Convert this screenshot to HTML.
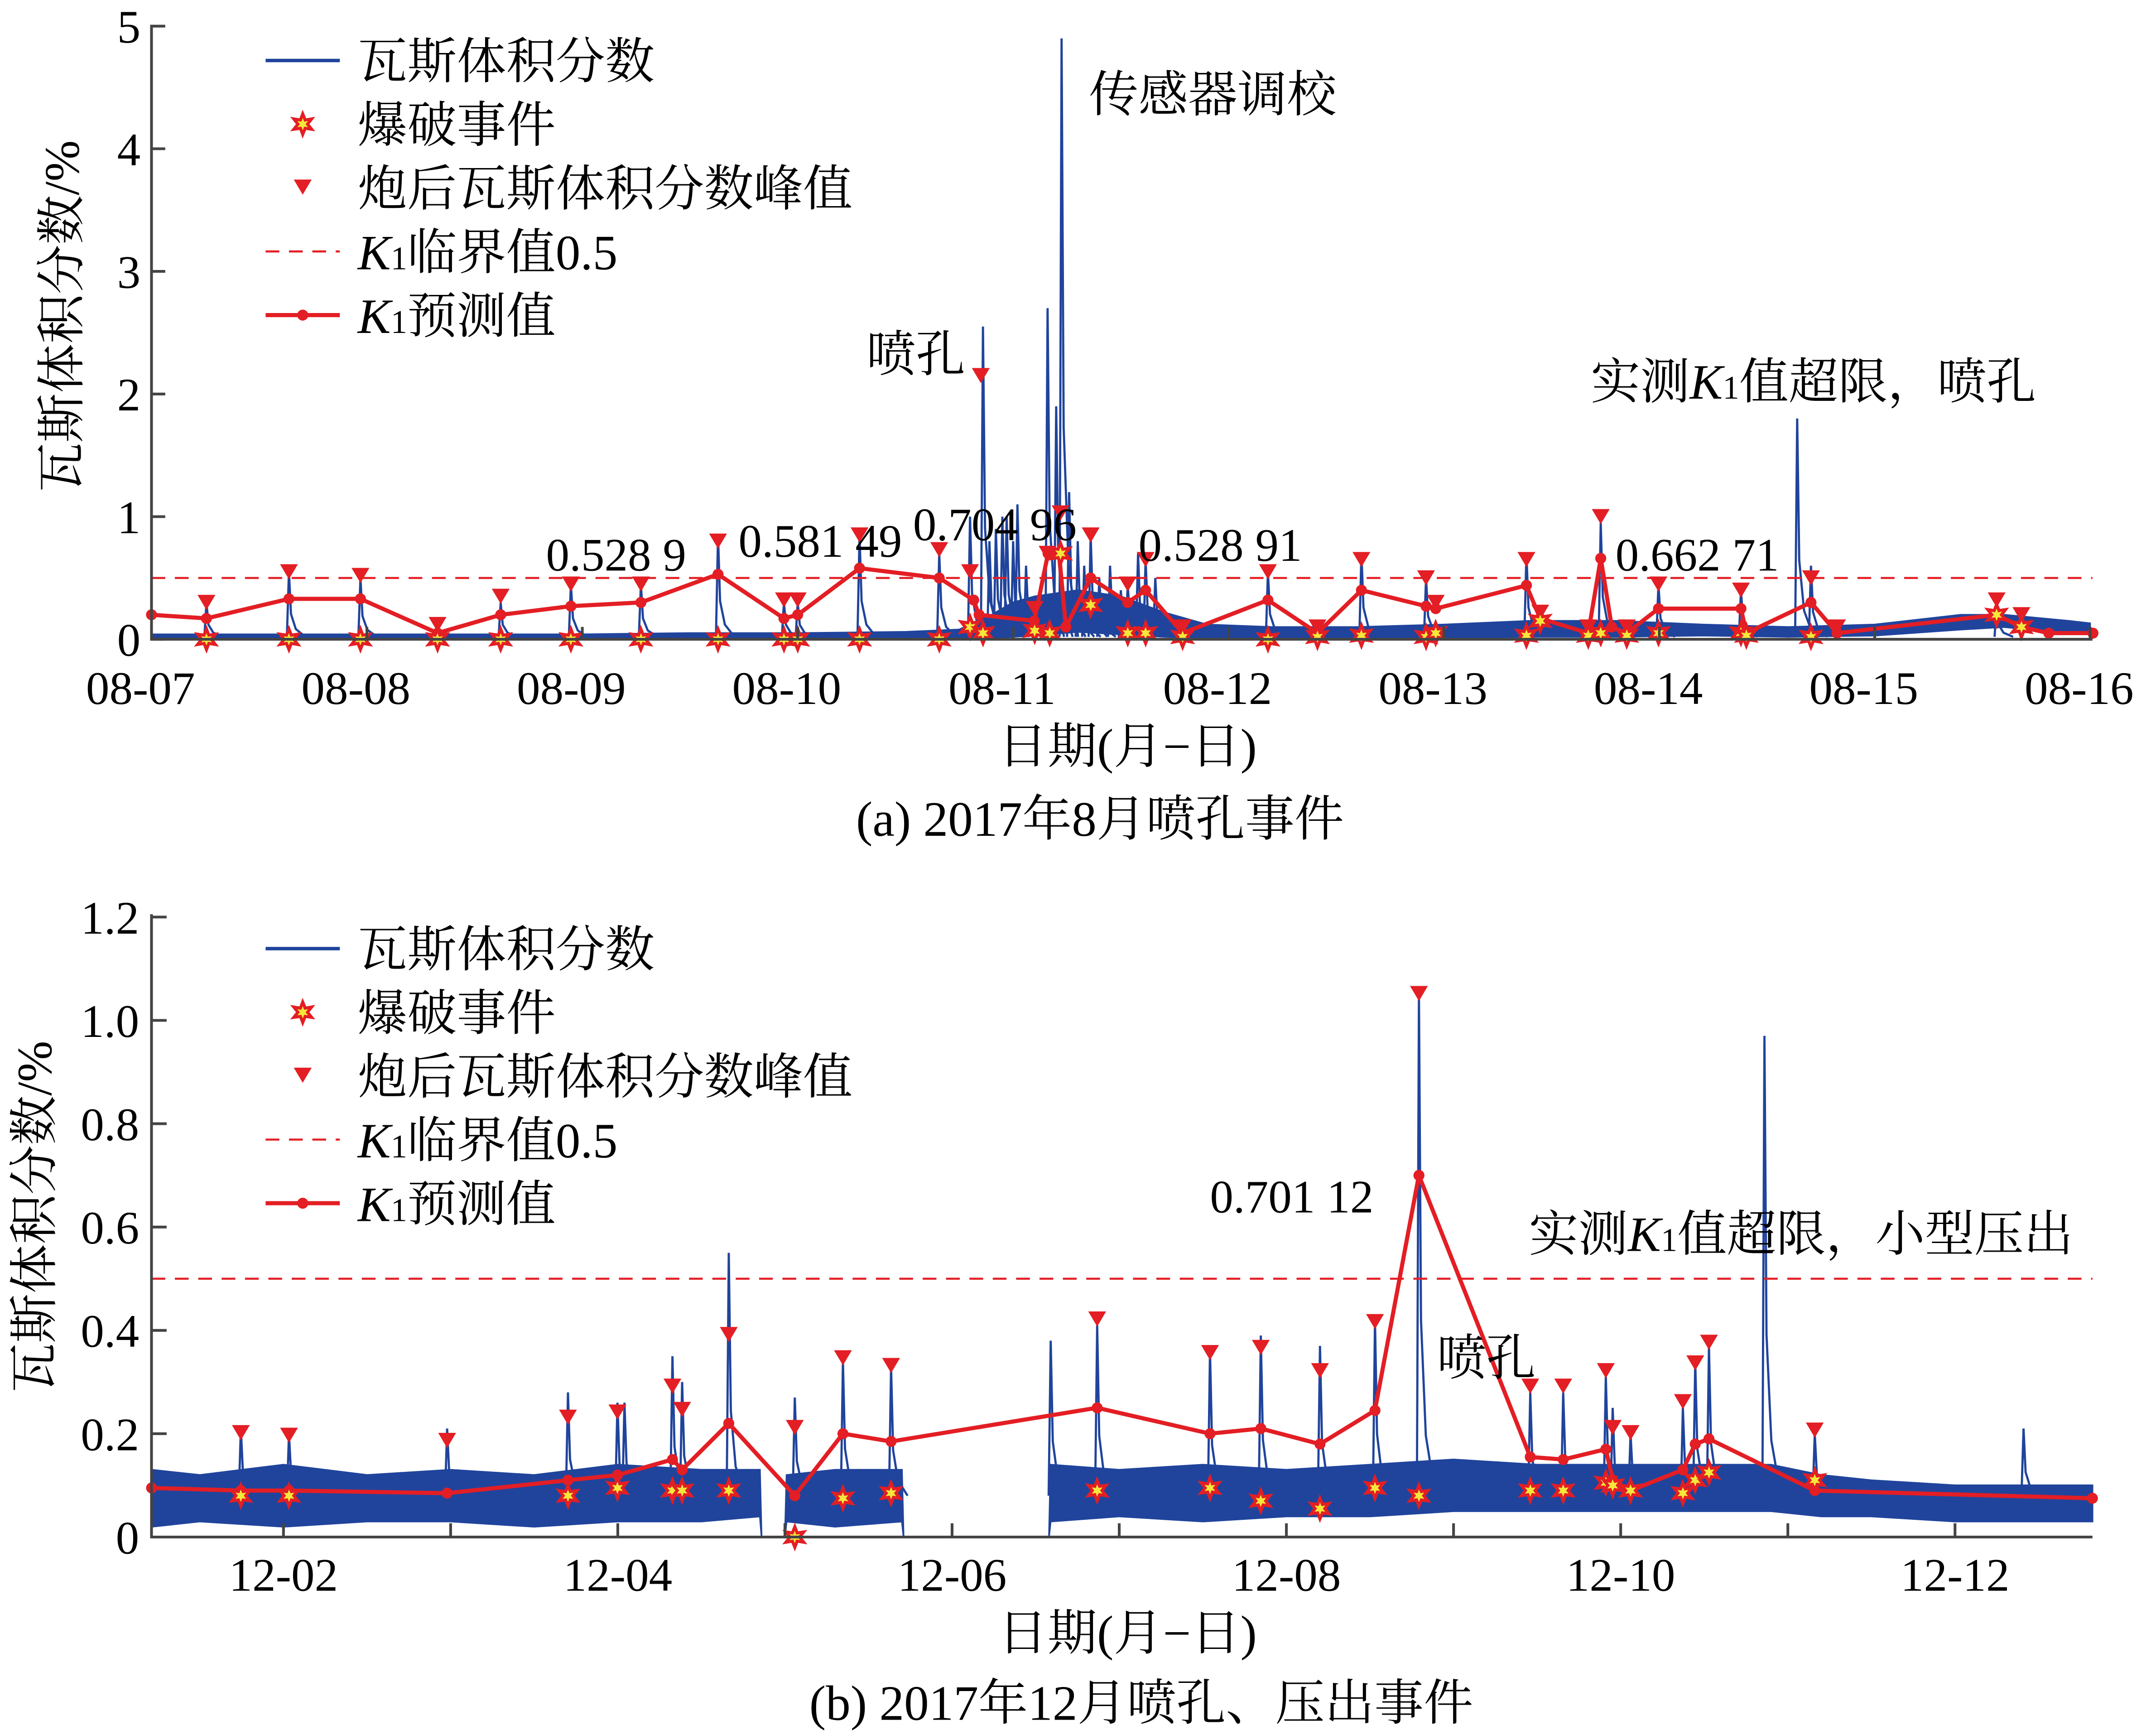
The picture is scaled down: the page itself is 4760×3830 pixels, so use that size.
<!DOCTYPE html>
<html><head><meta charset="utf-8"><style>
html,body{margin:0;padding:0;background:#fff;}
svg{display:block;font-family:"Liberation Serif","Noto Serif CJK SC","Noto Sans CJK SC",serif;}
</style></head><body>
<svg id="chart" width="4760" height="3830" viewBox="0 0 1568 1262" xmlns="http://www.w3.org/2000/svg">
<g id="pa"></g>
<g id="pb"></g>
</svg>
<script>
// ---------- Panel A data (days since 08-07) ----------
const aTickLabels = ["08-07","08-08","08-09","08-10","08-11","08-12","08-13","08-14","08-15","08-16"];
const aYTicks = [0,1,2,3,4,5];
const aK1Days = [0,0.255,0.638,0.970,1.328,1.621,1.947,2.272,2.630,2.936,3.0,3.287,3.657,3.817,3.842,4.098,4.162,4.213,4.245,4.360,4.532,4.615,4.787,5.183,5.413,5.617,5.917,5.962,6.383,6.447,6.670,6.728,6.779,6.849,6.996,7.379,7.404,7.704,7.825,8.566,8.681,8.808,9.013];
const aK1Vals = [0.2,0.17,0.33,0.33,0.05,0.2,0.27,0.3,0.53,0.17,0.2,0.58,0.5,0.32,0.2,0.15,0.7,0.7,0.1,0.5,0.3,0.4,0.05,0.32,0.05,0.4,0.27,0.25,0.44,0.17,0.05,0.66,0.1,0.05,0.25,0.25,0.05,0.3,0.05,0.2,0.1,0.05,0.05];
const aBlastDays = [0.255,0.638,0.970,1.328,1.621,1.947,2.272,2.630,2.936,3.0,3.287,3.657,3.80,3.86,4.10,4.17,4.22,4.36,4.532,4.615,4.787,5.183,5.413,5.617,5.917,5.962,6.383,6.447,6.670,6.728,6.849,6.996,7.379,7.404,7.704,8.566,8.681];
const aBlastVals = [0,0,0,0,0,0,0,0,0,0,0,0,0.1,0.05,0.07,0.05,0.7,0.28,0.05,0.05,0.02,0,0.02,0.03,0.02,0.05,0.03,0.15,0.03,0.05,0.03,0.05,0.05,0.03,0.02,0.2,0.1];
const aPeakDays = [0.255,0.638,0.970,1.328,1.621,1.947,2.272,2.630,2.936,3.0,3.287,3.657,3.80,3.85,4.10,4.16,4.22,4.36,4.532,4.615,4.787,5.183,5.413,5.617,5.917,5.962,6.383,6.447,6.670,6.728,6.849,6.996,7.379,7.704,7.825,8.566,8.681];
const aPeakVals = [0.25,0.5,0.47,0.07,0.3,0.4,0.4,0.75,0.27,0.27,0.8,0.68,0.5,2.1,0.2,0.65,0.98,0.8,0.4,0.6,0.05,0.5,0.05,0.6,0.45,0.25,0.6,0.17,0.05,0.95,0.05,0.4,0.35,0.45,0.05,0.27,0.15];
const aSpikeDays = [0.255,0.638,0.970,1.621,1.947,2.272,2.630,2.936,3.0,3.287,3.657,3.80,3.86,3.89,3.92,3.95,3.97,4.00,4.02,4.06,4.10,4.16,4.20,4.225,4.26,4.30,4.33,4.36,4.40,4.45,4.50,4.532,4.58,4.615,4.66,5.183,5.617,5.917,6.383,6.728,6.996,7.379,7.64,7.704,8.566];
const aSpikeVals = [0.3,0.55,0.5,0.3,0.45,0.45,0.85,0.3,0.3,0.85,0.7,1.0,2.55,0.8,0.9,1.0,1.0,0.8,1.1,0.6,0.3,2.7,1.9,4.9,1.2,0.8,0.6,0.85,0.5,0.6,0.4,0.45,0.7,0.65,0.5,0.55,0.7,0.5,0.7,0.95,0.45,0.4,1.8,0.6,0.3];
const aBandDays = [0,0.5,1,1.5,2,2.5,3,3.5,3.75,3.9,4.0,4.1,4.3,4.5,4.7,4.9,5.2,5.6,6.0,6.4,6.8,7.2,7.6,8.0,8.4,8.6,8.9,9.0];
const aBandLo = [0,0,0,0,0,0,0,0,0,0.01,0.02,0.03,0.06,0.04,0.02,0.01,0,0,0.01,0.02,0.02,0.03,0.02,0.03,0.08,0.1,0.05,0.05];
const aBandHi = [0.04,0.04,0.04,0.04,0.04,0.05,0.05,0.06,0.08,0.2,0.3,0.35,0.4,0.35,0.22,0.12,0.1,0.1,0.12,0.15,0.15,0.12,0.1,0.12,0.2,0.2,0.15,0.13];

// ---------- Panel B data (day of December) ----------
const bTickLabels = ["12-02","12-04","12-06","12-08","12-10","12-12"];
const bTickDays = [2,4,6,8,10,12];
const bYTicks = ["0","0.2","0.4","0.6","0.8","1.0","1.2"];
const bK1Days = [1.211,1.745,2.033,2.979,3.702,3.998,4.327,4.385,4.664,5.059,5.347,5.635,6.868,7.543,7.847,8.201,8.530,8.793,9.459,9.656,9.911,9.952,10.059,10.372,10.446,10.528,11.161,12.822];
const bK1Vals = [0.095,0.09,0.09,0.085,0.11,0.12,0.15,0.13,0.22,0.08,0.2,0.185,0.25,0.2,0.21,0.18,0.245,0.70,0.155,0.15,0.17,0.11,0.09,0.13,0.18,0.19,0.09,0.075];
const bBlastDays = [1.745,2.033,3.702,3.998,4.327,4.385,4.664,5.059,5.347,5.635,6.868,7.543,7.847,8.201,8.530,8.793,9.459,9.656,9.911,9.952,10.059,10.372,10.446,10.528,11.161];
const bBlastVals = [0.08,0.08,0.08,0.095,0.09,0.09,0.09,0,0.075,0.085,0.09,0.095,0.07,0.055,0.095,0.08,0.09,0.09,0.105,0.1,0.09,0.085,0.11,0.125,0.11];
const bPeakDays = [1.745,2.033,2.979,3.702,3.998,4.327,4.385,4.664,5.059,5.347,5.635,6.868,7.543,7.847,8.201,8.530,8.793,9.459,9.656,9.911,9.952,10.059,10.372,10.446,10.528,11.161];
const bPeakVals = [0.19,0.185,0.175,0.22,0.23,0.28,0.235,0.38,0.2,0.335,0.32,0.41,0.345,0.355,0.31,0.405,1.04,0.28,0.28,0.31,0.2,0.19,0.25,0.325,0.365,0.195];
const bSpikeDays = [1.745,2.033,2.979,3.702,3.998,4.04,4.327,4.385,4.664,5.059,5.347,5.635,6.59,6.868,7.543,7.847,8.201,8.530,8.793,9.459,9.656,9.911,9.952,10.059,10.372,10.446,10.528,10.86,11.161,12.41];
const bSpikeVals = [0.21,0.2,0.21,0.28,0.26,0.26,0.35,0.3,0.55,0.27,0.34,0.33,0.38,0.41,0.36,0.39,0.37,0.42,1.05,0.28,0.28,0.31,0.25,0.2,0.25,0.34,0.37,0.97,0.2,0.21];
const bBandDays = [1.211,1.5,2,2.5,3,3.5,4,4.5,4.85,4.86,5.0,5.01,5.3,5.7,5.71,6.58,6.59,7,7.5,8,8.5,9,9.5,10,10.5,10.9,11.2,11.5,12,12.5,12.822];
const bBandLo = [0.02,0.03,0.02,0.03,0.03,0.02,0.03,0.03,0.04,0,0,0.03,0.02,0.03,0,0,0.03,0.04,0.03,0.04,0.04,0.05,0.05,0.05,0.05,0.05,0.04,0.04,0.03,0.03,0.03];
const bBandHi = [0.13,0.12,0.14,0.12,0.13,0.12,0.14,0.13,0.13,0,0,0.12,0.13,0.13,0,0,0.14,0.13,0.14,0.13,0.14,0.15,0.14,0.14,0.14,0.14,0.12,0.11,0.1,0.1,0.1];

const NS="http://www.w3.org/2000/svg";
function mk(parent,tag,attrs){const e=document.createElementNS(NS,tag);for(const k in attrs)e.setAttribute(k,attrs[k]);parent.appendChild(e);return e;}
const BLUE="#20449c", RED="#e31e24";

function star(g,x,y){
  const pts=[];for(let i=0;i<12;i++){const r=i%2?3.5:7.5;const a=Math.PI/6*i-Math.PI/2;pts.push((x+r*Math.cos(a)).toFixed(1)+","+(y+r*Math.sin(a)).toFixed(1));}
  const p=mk(g,"polygon",{points:pts.join(" "),fill:"#f5e83a",stroke:RED,"stroke-width":2.2});
  
  
}
function tri(g,x,y){
  const p=mk(g,"polygon",{points:`${x-6.5},${y-10} ${x+6.5},${y-10} ${x},${y+1}`,fill:RED});
  
  
}

function drawPanel(g,o){
  const {x,y,x0,x1,y0,y1}=o;
  let d="";
  o.bandDays.forEach((t,i)=>{d+=(i?"L":"M")+x(t).toFixed(1)+","+y(o.bandHi[i]).toFixed(1);});
  for(let i=o.bandDays.length-1;i>=0;i--)d+="L"+x(o.bandDays[i]).toFixed(1)+","+y(o.bandLo[i]).toFixed(1);
  const band=mk(g,"path",{d:d+"Z",fill:BLUE,stroke:BLUE,"stroke-width":1.2});
  
  
  o.spikeDays.forEach((t,i)=>{
    const b=o.base(t);
    const sp=mk(g,"path",{d:`M${x(t)-1.5},${y(b)} L${x(t)},${y(o.spikeVals[i])} L${x(t)+1.5},${y(b+(o.spikeVals[i]-b)*0.35)} L${x(t)+5},${y(b+(o.spikeVals[i]-b)*0.12)} L${x(t)+12},${y(b)}`,fill:"none",stroke:BLUE,"stroke-width":1.6});
    
    
  });
  const th=mk(g,"line",{x1:x0,x2:x1,y1:y(0.5),y2:y(0.5),stroke:RED,"stroke-width":1.5,"stroke-dasharray":"10,7"});
  
  
  const pts=o.k1Days.map((t,i)=>x(t).toFixed(1)+","+y(o.k1Vals[i]).toFixed(1)).join(" ");
  const k1=mk(g,"polyline",{points:pts,fill:"none",stroke:RED,"stroke-width":3,"stroke-linejoin":"round"});
  
  
  o.k1Days.forEach((t,i)=>{const c=mk(g,"circle",{cx:x(t),cy:y(o.k1Vals[i]),r:4,fill:RED});
    
    });
  o.peakDays.forEach((t,i)=>tri(g,x(t),y(o.peakVals[i])));
  o.blastDays.forEach((t,i)=>star(g,x(t),y(o.blastVals[i])));
  const ax=mk(g,"path",{d:`M${x0},${y1} L${x0},${y0} L${x1},${y0}`,fill:"none",stroke:"#444","stroke-width":2});
  
  
}

function legend(g,top){
  const items=["瓦斯体积分数","爆破事件","炮后瓦斯体积分数峰值","临界值0.5","预测值"];
  items.forEach((s,i)=>{
    const yy=top+i*46.3;
    const lg=mk(g,"g",{});
    
    
    if(i==0)mk(lg,"line",{x1:193,x2:247,y1:yy,y2:yy,stroke:BLUE,"stroke-width":2.5});
    if(i==1)star(lg,220,yy);
    if(i==2)tri(lg,220,yy+4);
    if(i==3)mk(lg,"line",{x1:193,x2:247,y1:yy,y2:yy,stroke:RED,"stroke-width":1.5,"stroke-dasharray":"10,7"});
    if(i==4){mk(lg,"line",{x1:193,x2:247,y1:yy,y2:yy,stroke:RED,"stroke-width":3});mk(lg,"circle",{cx:220,cy:yy,r:4,fill:RED});}
    const t=mk(lg,"text",{x:260,y:yy+13,"font-size":36});
    if(i>=3){const k=mk(t,"tspan",{"font-style":"italic"});k.textContent="K";const s1=mk(t,"tspan",{"font-size":24});s1.textContent="1";const r=mk(t,"tspan",{});r.textContent=s;}
    else t.textContent=s;
  });
}
function text(g,x,y,s,size,anchor,name,extra){
  const t=mk(g,"text",Object.assign({x:x,y:y,"font-size":size,"text-anchor":anchor||"start"},extra||{}));
  t.textContent=s;
  
  
  return t;
}

// Panel A
const ga=document.getElementById("pa");
const xA=t=>110+t*156.7, yA=v=>465-v*89.2;
drawPanel(ga,{x:xA,y:yA,x0:110,x1:1522,y0:465,y1:18,
  bandDays:aBandDays,bandLo:aBandLo,bandHi:aBandHi,spikeDays:aSpikeDays,spikeVals:aSpikeVals,
  base:t=>0.02,k1Days:aK1Days,k1Vals:aK1Vals,peakDays:aPeakDays,peakVals:aPeakVals,blastDays:aBlastDays,blastVals:aBlastVals});
aYTicks.forEach(v=>{mk(ga,"line",{x1:110,x2:120,y1:yA(v),y2:yA(v),stroke:"#444","stroke-width":2});
  text(ga,102,yA(v)+12,String(v),34,"end","y-tick-label");});
aTickLabels.forEach((s,i)=>{mk(ga,"line",{x1:xA(i),x2:xA(i),y1:465,y2:456,stroke:"#444","stroke-width":2});
  text(ga,xA(i)-8,512,s,34,"middle","x-tick-label");});
text(ga,820,555,"日期(月−日)",36,"middle","x-axis-title");
text(ga,800,608,"(a)  2017年8月喷孔事件",36,"middle","caption-a");
text(ga,0,0,"瓦斯体积分数/%",36,"middle","y-axis-title",{transform:"translate(57,230) rotate(-90)"});
legend(ga,44);
text(ga,792,81,"传感器调校",36,"start","annotation-calibration");
text(ga,630,270,"喷孔",36,"start","annotation-outburst");
(function(){const t=text(ga,1157,290,"",36,"start","annotation-exceed");
  const a=mk(t,"tspan",{});a.textContent="实测";const k=mk(t,"tspan",{"font-style":"italic"});k.textContent="K";
  const s=mk(t,"tspan",{"font-size":24});s.textContent="1";const r=mk(t,"tspan",{});r.textContent="值超限，喷孔";})();
text(ga,397,415,"0.528 9",34,"start","value-label");
text(ga,537,405,"0.581 49",34,"start","value-label");
text(ga,664,393,"0.704 96",34,"start","value-label");
text(ga,828,408,"0.528 91",34,"start","value-label");
text(ga,1175,415,"0.662 71",34,"start","value-label");

// Panel B
const gb=document.getElementById("pb");
const xB=t=>206+(t-2)*121.6, yB=v=>1118-v*375.8;
drawPanel(gb,{x:xB,y:yB,x0:110,x1:1522,y0:1118,y1:665,
  bandDays:bBandDays,bandLo:bBandLo,bandHi:bBandHi,spikeDays:bSpikeDays,spikeVals:bSpikeVals,
  base:t=>0.08,k1Days:bK1Days,k1Vals:bK1Vals,peakDays:bPeakDays,peakVals:bPeakVals,blastDays:bBlastDays,blastVals:bBlastVals});
bYTicks.forEach((s,i)=>{const v=i*0.2;mk(gb,"line",{x1:110,x2:121,y1:yB(v),y2:yB(v),stroke:"#444","stroke-width":2});
  text(gb,101,yB(v)+12,s,34,"end","y-tick-label");});
for(let d=2;d<=12.5;d+=1){mk(gb,"line",{x1:xB(d),x2:xB(d),y1:1118,y2:1108,stroke:"#444","stroke-width":2});}
bTickDays.forEach((d,i)=>text(gb,xB(d),1157,bTickLabels[i],34,"middle","x-tick-label"));
text(gb,820,1200,"日期(月−日)",36,"middle","x-axis-title");
text(gb,830,1251,"(b)  2017年12月喷孔、压出事件",36,"middle","caption-b");
text(gb,0,0,"瓦斯体积分数/%",36,"middle","y-axis-title",{transform:"translate(37,885) rotate(-90)"});
legend(gb,690);
text(gb,880,882,"0.701 12",34,"start","value-label");
text(gb,1045,1000,"喷孔",36,"start","annotation-outburst");
(function(){const t=text(gb,1112,910,"",36,"start","annotation-exceed");
  const a=mk(t,"tspan",{});a.textContent="实测";const k=mk(t,"tspan",{"font-style":"italic"});k.textContent="K";
  const s=mk(t,"tspan",{"font-size":24});s.textContent="1";const r=mk(t,"tspan",{});r.textContent="值超限，小型压出";})();
</script>
</body></html>
